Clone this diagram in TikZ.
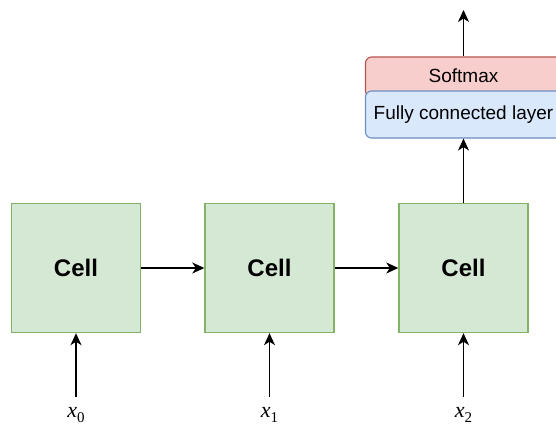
\documentclass[tikz,border=0pt]{standalone}
\usepackage{fontspec}
\setmainfont{Liberation Sans}
\newfontfamily\labelserif{Liberation Serif}
\usetikzlibrary{arrows.meta}
\definecolor{cellfill}{HTML}{D5E8D4}
\definecolor{celldraw}{HTML}{82B366}
\definecolor{smfill}{HTML}{F8CECC}
\definecolor{smdraw}{HTML}{B85450}
\definecolor{fcfill}{HTML}{DAE8FC}
\definecolor{fcdraw}{HTML}{6C8EBF}
\newcommand{\inlabel}[1]{{\labelserif\fontsize{22}{24}\selectfont\itshape x\raisebox{-5pt}{\upshape\fontsize{15}{15}\selectfont #1}}}
\begin{document}
\begin{tikzpicture}[x=1pt,y=-1pt,
  cellbox/.style={draw=celldraw,fill=cellfill,line width=1.4pt,minimum width=129pt,minimum height=129pt,inner sep=0pt,
    font=\fontsize{24}{26}\selectfont\bfseries},
  layerbox/.style={rounded corners=6pt,line width=1.1pt,minimum width=196pt,inner sep=0pt,font=\fontsize{19}{21}\selectfont},
  arr/.style={line width=1.4pt,-{Stealth[length=12pt,width=11pt,inset=3.5pt]}},
  xlabel/.style={anchor=base,inner sep=0pt}]
\useasboundingbox (0,0) rectangle (556,426);
% recurrent cells
\node[cellbox] (c0) at (76,268) {Cell};
\node[cellbox] (c1) at (269.5,268) {Cell};
\node[cellbox] (c2) at (463.5,268) {Cell};
% output head: softmax sits behind the fully connected layer
\node[layerbox,draw=smdraw,fill=smfill,minimum height=40pt] (sm) at (463.5,77) {\raisebox{3pt}{Softmax}};
\node[layerbox,draw=fcdraw,fill=fcfill,minimum height=47pt] (fc) at (463.5,114.5) {Fully connected layer};
% inputs
\node[xlabel] (x0) at (76,417) {\inlabel{0}};
\node[xlabel] (x1) at (269.5,417) {\inlabel{1}};
\node[xlabel] (x2) at (463.5,417) {\inlabel{2}};
\coordinate (i0) at (76,397);
\coordinate (i1) at (269.5,397);
\coordinate (i2) at (463.5,397);
\coordinate (out) at (463.5,10);
% connectors
\draw[arr] (i0) -- (c0.south);
\draw[arr] (i1) -- (c1.south);
\draw[arr] (i2) -- (c2.south);
\draw[arr] (c0.east) -- (c1.west);
\draw[arr] (c1.east) -- (c2.west);
\draw[arr] (c2.north) -- (fc.south);
\draw[arr] (sm.north) -- (out);
\end{tikzpicture}
\end{document}
